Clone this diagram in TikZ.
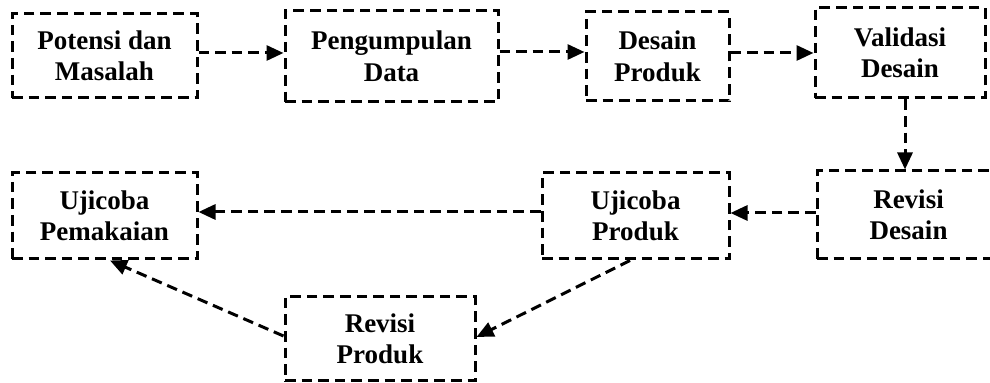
\documentclass[tikz,border=0pt]{standalone}
\usepackage{fontspec}
\setmainfont{Liberation Serif}
\usetikzlibrary{arrows.meta}
\begin{document}
\begin{tikzpicture}[x=0.5pt,y=-0.5pt,
  dsh/.style={line width=1.5pt, dash pattern=on 5.3pt off 3pt},
  box/.style={dsh, draw, rectangle, inner sep=0pt, align=center,
    font=\fontsize{13.5}{15.75}\selectfont\bfseries},
  arr/.style={dsh, -{Triangle[length=8.5pt,width=7.5pt]}}]
\useasboundingbox (0,0) rectangle (990,383);
\node[box, minimum width=92.5pt, minimum height=42pt]   (b1) at (104.5,56)  {Potensi dan\\Masalah};
\node[box, minimum width=106.5pt, minimum height=45.5pt] (b2) at (391.5,56.5) {Pengumpulan\\Data};
\node[box, minimum width=71.5pt, minimum height=44.5pt] (b3) at (657.5,56.5) {Desain\\Produk};
\node[box, minimum width=85pt, minimum height=45pt]     (b4) at (900,53)    {Validasi\\Desain};
\node[box, minimum width=91.5pt, minimum height=44pt]   (b5) at (908.5,215) {Revisi\\Desain};
\node[box, minimum width=93.5pt, minimum height=43pt]   (b6) at (635.5,216) {Ujicoba\\Produk};
\node[box, minimum width=92.5pt, minimum height=43pt]   (b7) at (104.5,216) {Ujicoba\\Pemakaian};
\node[box, minimum width=95pt, minimum height=42pt]     (b8) at (380,339)   {Revisi\\Produk};
\draw[arr] ([yshift=1.5pt]b1.east) -- ([yshift=1.5pt]b1.east -| b2.west);
\draw[arr] ([yshift=2.25pt]b2.east) -- ([yshift=2.25pt]b2.east -| b3.west);
\draw[arr] ([yshift=1.75pt]b3.east) -- ([yshift=1.75pt]b3.east -| b4.west);
\draw[arr] ([xshift=2.5pt]b4.south) -- ([xshift=2.5pt]b4.south |- b5.north);
\draw[arr] ([yshift=1pt]b5.west) -- ([yshift=1pt]b5.west -| b6.east);
\draw[arr] ([yshift=2pt]b6.west) -- ([yshift=2pt]b6.west -| b7.east);
\draw[arr] ([xshift=-2.75pt]b6.south) -- ([yshift=1pt]b8.east);
\draw[arr] ([yshift=1.5pt]b8.west) -- ([xshift=2.75pt]b7.south);
\end{tikzpicture}
\end{document}
